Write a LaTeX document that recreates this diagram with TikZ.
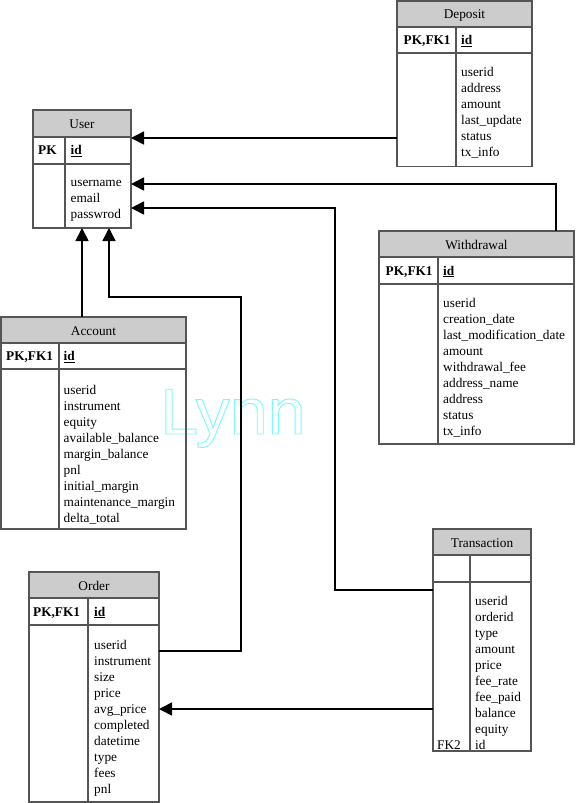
\documentclass[tikz,border=0pt]{standalone}
\usepackage{fontspec}
\setmainfont{Liberation Serif}
\newfontfamily\markfont{Liberation Sans}
\usetikzlibrary{arrows.meta}

\definecolor{hdrgray}{RGB}{204,204,204}
\definecolor{framegray}{RGB}{85,85,85}

% stroked (outline-only) text for the watermark, via raw PDF operators
\newcommand\outlinetext[1]{%
  \special{pdf:literal direct q 1 Tr 0.9 w 0.47 0.98 1 RG}#1\special{pdf:literal direct Q}}

\tikzset{
  every node/.style={font=\fontsize{13.3}{16}\selectfont},
  frame/.style={draw=framegray, line width=1.3pt, inner sep=0pt, outer sep=0pt, anchor=north west},
  hdrbox/.style={frame, fill=hdrgray},
  cellbox/.style={frame},
  title/.style={anchor=base, inner sep=0pt},
  keylabel/.style={anchor=base west, inner sep=0pt, font=\fontsize{13.3}{16}\selectfont\bfseries},
  field/.style={anchor=base west, inner sep=0pt},
  marktext/.style={anchor=base west, inner sep=0pt, font=\markfont\fontsize{65}{65}\selectfont},
  conn/.style={draw=black, line width=1.6pt, -{Triangle[length=13pt,width=13pt]}},
}

% #1 name, #2 left, #3 top, #4 right, #5 header bottom, #6 key row bottom, #7 bottom, #8 column divider
\newcommand\ertable[8]{%
  \node[hdrbox,  minimum width={#4-#2}, minimum height={#5-#3}] (#1)    at (#2,#3) {};
  \node[cellbox, minimum width={#8-#2}, minimum height={#6-#5}] (#1-kl) at (#2,#5) {};
  \node[cellbox, minimum width={#4-#8}, minimum height={#6-#5}] (#1-kr) at (#8,#5) {};
  \node[cellbox, minimum width={#8-#2}, minimum height={#7-#6}] (#1-bl) at (#2,#6) {};
  \node[cellbox, minimum width={#4-#8}, minimum height={#7-#6}] (#1-br) at (#8,#6) {};
}
% #1 name, #2 x, #3 first baseline, #4 list of fields
\newcommand\erfields[4]{%
  \foreach \fld [count=\i] in {#4} {\node[field] (#1-f\i) at (#2,{#3+16*(\i-1)}) {\fld};}
}

\begin{document}
\begin{tikzpicture}[x=1pt,y=-1pt]
  \fill[white] (0,0) rectangle (576,803);
  \useasboundingbox (0,0) rectangle (576,803);

  % watermark
  \node[marktext] (mark) at (160,434) {\outlinetext{\scalebox{1.05}[1]{Lynn}}};

  % User
  \ertable{user}{33}{110}{131}{137}{164}{228}{65}
  \node[title] (user-t) at (82,128) {User};
  \node[keylabel] (user-k) at (38,154.5) {PK};
  \node[keylabel] (user-id) at (70.5,154.5) {\underline{id}};
  \erfields{user}{70.5}{186}{username,email,passwrod}

  % Deposit
  \ertable{deposit}{397}{1}{532}{27}{53}{166.5}{456}
  \node[title] (deposit-t) at (464.5,19) {Deposit};
  \node[keylabel] (deposit-k) at (403.5,44.5) {PK,FK1};
  \node[keylabel] (deposit-id) at (461,44.5) {\underline{id}};
  \erfields{deposit}{461}{76.5}{userid,address,amount,last\_update,status,tx\_info}

  % Withdrawal
  \ertable{withdrawal}{379}{231}{574}{257}{284}{444}{438}
  \node[title] (withdrawal-t) at (476.5,249) {Withdrawal};
  \node[keylabel] (withdrawal-k) at (385.5,275) {PK,FK1};
  \node[keylabel] (withdrawal-id) at (443,275) {\underline{id}};
  \erfields{withdrawal}{443}{307.5}{userid,creation\_date,last\_modification\_date,amount,withdrawal\_fee,address\_name,address,status,tx\_info}

  % Account
  \ertable{account}{1}{317}{186}{343}{369}{529}{59}
  \node[title] (account-t) at (93.5,335) {Account};
  \node[keylabel] (account-k) at (6,360.5) {PK,FK1};
  \node[keylabel] (account-id) at (63.5,360.5) {\underline{id}};
  \erfields{account}{63.5}{394.5}{userid,instrument,equity,available\_balance,margin\_balance,pnl,initial\_margin,maintenance\_margin,delta\_total}

  % Order
  \ertable{order}{29}{572}{159}{598}{625}{802}{88}
  \node[title] (order-t) at (94,590) {Order};
  \node[keylabel] (order-k) at (33,616) {PK,FK1};
  \node[keylabel] (order-id) at (94,616) {\underline{id}};
  \erfields{order}{94}{649.5}{userid,instrument,size,price,avg\_price,completed,datetime,type,fees,pnl}

  % Transaction
  \ertable{transaction}{433}{529}{531}{555}{582}{751}{470}
  \node[title] (transaction-t) at (482,547) {Transaction};
  \erfields{transaction}{475}{605.5}{userid,orderid,type,amount,price,fee\_rate,fee\_paid,balance,equity,id}
  \node[field] (transaction-fk) at (437,749.5) {FK2};

  % relationships
  \draw[conn] (deposit-bl.west |- 0,138) -- (user-kr.east |- 0,138);
  \draw[conn] (withdrawal.north -| 556,0) |- (user-br.east |- 0,184);
  \draw[conn] (transaction-bl.west |- 0,590) -| (335,208) -- (user-br.east |- 0,208);
  \draw[conn] (account.north -| 82,0) -- (user-br.south -| 82,0);
  \draw[conn] (order-br.east |- 0,651) -| (241,297) -| (user-br.south -| 109,0);
  \draw[conn] (transaction-bl.west |- 0,709) -- (order-br.east |- 0,709);
\end{tikzpicture}
\end{document}
